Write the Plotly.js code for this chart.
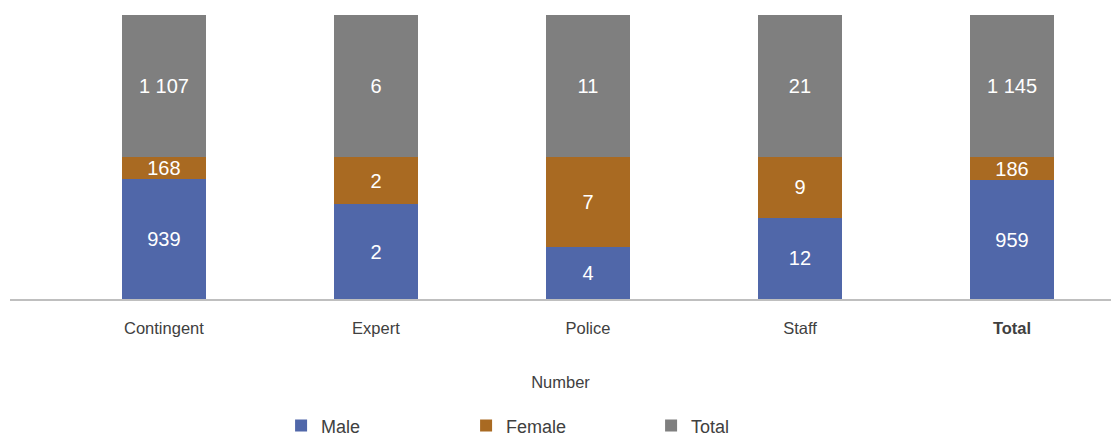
<!DOCTYPE html>
<html>
<head>
<meta charset="utf-8">
<script src="https://cdn.plot.ly/plotly-3.0.1.min.js"></script>
<style>html,body{margin:0;padding:0;background:#fff;}#chart{width:1111px;height:439px;}</style>
</head>
<body>
<div id="chart"></div>
<script>
const categories = ["Contingent", "Expert", "Police", "Staff", "Total"];
const tickLabels = ["Contingent", "Expert", "Police", "Staff", "<b>Total</b>"];
const maleValues = [939, 4, 4, 12, 959];
const femaleValues = [168, 2, 7, 9, 186];
const totalValues = [1107, 6, 11, 21, 1145];
const maleLabels = ["939", "2", "4", "12", "959"];
const femaleLabels = ["168", "2", "7", "9", "186"];
const totalLabels = ["1 107", "6", "11", "21", "1 145"];

const font = "Liberation Sans, Arial, Helvetica, sans-serif";
function mk(name, vals, labels, color) {
  return {
    type: "bar", name: name, x: categories, y: vals, text: labels,
    textposition: "inside", insidetextanchor: "middle", constraintext: "none",
    textangle: 0,
    textfont: {color: "#ffffff", size: 20, family: font},
    marker: {color: color, line: {width: 0}},
    hoverinfo: "skip"
  };
}
const data = [
  mk("Male", maleValues, maleLabels, "#5067A9"),
  mk("Female", femaleValues, femaleLabels, "#A96A22"),
  mk("Total", totalValues, totalLabels, "#7F7F7F")
];
const layout = {
  width: 1111, height: 439,
  margin: {l: 10, r: 0, t: 15, b: 140, autoexpand: false},
  barmode: "stack", barnorm: "percent", bargap: 0.604,
  paper_bgcolor: "#ffffff", plot_bgcolor: "#ffffff",
  font: {family: font, color: "#404040"},
  showlegend: true,
  xaxis: {
    type: "category", range: [-0.726, 4.467], automargin: false,
    tickvals: categories, ticktext: tickLabels,
    showline: true, linecolor: "#BFBFBF", linewidth: 1.5,
    ticks: "", showgrid: false, zeroline: false,
    ticklabelstandoff: 14,
    tickfont: {size: 16.5, color: "#404040"},
    title: {text: "Number", font: {size: 16.5, color: "#404040"}, standoff: 40}
  },
  yaxis: {range: [0, 100], visible: false, showgrid: false, zeroline: false},
  legend: {
    orientation: "h", xref: "container", yref: "container",
    x: 0.253, xanchor: "left", y: 0.03, yanchor: "middle",
    font: {size: 18, color: "#404040"},
    entrywidth: 140, entrywidthmode: "pixels", traceorder: "normal"
  }
};
Plotly.newPlot("chart", data, layout, {staticPlot: true});
</script>
</body>
</html>
